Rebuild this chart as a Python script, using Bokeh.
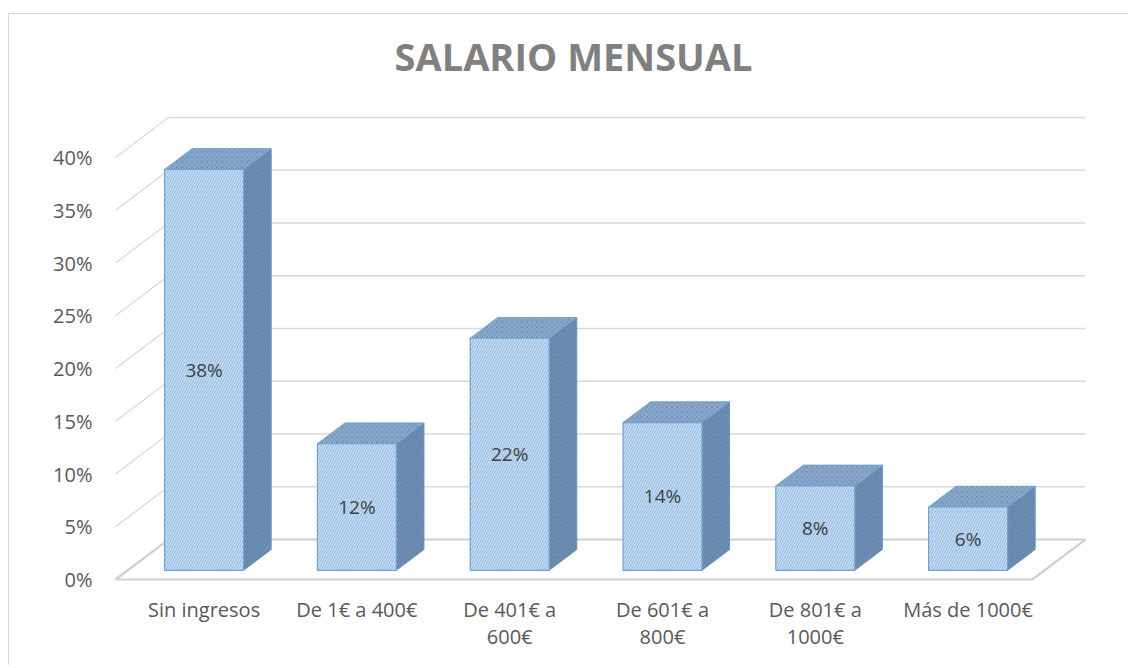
from bokeh.plotting import figure
from bokeh.models import Range1d, FixedTicker, PrintfTickFormatter, ColumnDataSource
from bokeh.core.properties import value
from bokeh.embed import file_html
from bokeh.resources import INLINE

# ---------------- data ----------------
categories = ["Sin ingresos", "De 1€ a 400€", "De 401€ a\n600€",
              "De 601€ a\n800€", "De 801€ a\n1000€", "Más de 1000€"]
percentages = [38, 12, 22, 14, 8, 6]
y_ticks = [0, 5, 10, 15, 20, 25, 30, 35, 40]
title_text = "SALARIO MENSUAL"

# ---------------- 3D projection helpers ----------------
DX = 0.347      # horizontal shift (category units) for full depth
DY = 3.79       # vertical shift (% units) for full depth
D0, D1 = 0.23, 0.75   # bar front / back depth
HW = 0.2585     # half width of a bar
XS = D0 * DX
FL = -0.5 - XS  # front-left of floor
FR = len(categories) - 0.5 - XS

def proj(x, y, d):
    return x + d * DX, y + d * DY

PX_X = 152.8    # px per category unit
PX_Y = 10.55    # px per percent

W, H = 1120, 652
MB_L, MB_R, MB_T, MB_B = 104, 40, 0, 84
frame_w = W - MB_L - MB_R
frame_h = H - MB_T - MB_B
x_start = FL - 2 / PX_X
y_start = -3 / PX_Y

# title placement (pixels relative to plot frame)
TITLE_DX = 458      # from front-left floor corner to title centre
TITLE_DY = 524      # from floor front edge up to title centre

FONT = "Open Sans"

p = figure(width=W, height=H, output_backend="svg", toolbar_location=None,
           x_range=Range1d(x_start, x_start + frame_w / PX_X),
           y_range=Range1d(y_start, y_start + frame_h / PX_Y),
           min_border_left=MB_L, min_border_right=MB_R,
           min_border_top=MB_T, min_border_bottom=MB_B)
p.styles = {"margin-left": "8px", "margin-top": "13px",
            "border-left": "1px solid #D9D9D9",
            "border-top": "1px solid #D9D9D9"}
p.outline_line_color = None
p.xgrid.visible = False
p.ygrid.visible = False
p.background_fill_color = "white"
p.border_fill_color = "white"

# y axis
ya = p.yaxis[0]
ya.ticker = FixedTicker(ticks=y_ticks)
ya.formatter = PrintfTickFormatter(format="%d%%")
ya.axis_line_color = None
ya.major_tick_line_color = None
ya.minor_tick_line_color = None
ya.major_label_standoff = 15
ya.major_label_text_font = FONT
ya.major_label_text_font_size = "20px"
ya.major_label_text_color = "#595959"

# x axis
xa = p.xaxis[0]
xa.ticker = FixedTicker(ticks=list(range(len(categories))))
xa.major_label_overrides = {i: c for i, c in enumerate(categories)}
xa.axis_line_color = None
xa.major_tick_line_color = None
xa.minor_tick_line_color = None
xa.major_label_standoff = 7
xa.major_label_text_font = FONT
xa.major_label_text_font_size = "20px"
xa.major_label_text_line_height = 1.03
xa.major_label_text_color = "#595959"

GRID = "#D9D9D9"

# left wall and back wall gridlines
lw_x, lw_y, bw_x, bw_y = [], [], [], []
for v in y_ticks[1:]:
    a = proj(FL, v, 0); b = proj(FL, v, 1); c = proj(FR, v, 1)
    lw_x.append([a[0], b[0]]); lw_y.append([a[1], b[1]])
    bw_x.append([b[0], c[0]]); bw_y.append([b[1], c[1]])
p.multi_line(lw_x, lw_y, line_color=GRID, line_width=1.2)
p.multi_line(bw_x, bw_y, line_color=GRID, line_width=1.6)

# floor
fl = [proj(FL, 0, 0), proj(FR, 0, 0), proj(FR, 0, 1), proj(FL, 0, 1)]
p.patch([q[0] for q in fl], [q[1] for q in fl], fill_color=None,
        line_color="#CFCFCF", line_width=2.2)

# bars
front_x, front_y, top_x, top_y, side_x, side_y = [], [], [], [], [], []
lab_x, lab_y, lab_t = [], [], []
for i, v in enumerate(percentages):
    xl = i - XS - HW
    xr = i - XS + HW
    f = [proj(xl, 0, D0), proj(xr, 0, D0), proj(xr, v, D0), proj(xl, v, D0)]
    t = [proj(xl, v, D0), proj(xr, v, D0), proj(xr, v, D1), proj(xl, v, D1)]
    s = [proj(xr, 0, D0), proj(xr, v, D0), proj(xr, v, D1), proj(xr, 0, D1)]
    front_x.append([q[0] for q in f]); front_y.append([q[1] for q in f])
    top_x.append([q[0] for q in t]); top_y.append([q[1] for q in t])
    side_x.append([q[0] for q in s]); side_y.append([q[1] for q in s])
    cx, cy = proj(i - XS, v / 2, D0)
    lab_x.append(cx); lab_y.append(cy); lab_t.append(f"{v}%")

p.patches(side_x, side_y, fill_color="#7393B7", line_color="#6A93BF",
          line_width=1, hatch_pattern="/", hatch_color="#54779D",
          hatch_scale=5, hatch_weight=1, hatch_alpha=0.8)
p.patches(top_x, top_y, fill_color="#89A9CB", line_color="#7BA3CF",
          line_width=1, hatch_pattern="x", hatch_color="#6B8DB2",
          hatch_scale=5, hatch_weight=1, hatch_alpha=0.7)
p.patches(front_x, front_y, fill_color="#C6DFF6", line_color="#72A1D3",
          line_width=1.2, hatch_pattern="/", hatch_color="#8AB0DA",
          hatch_scale=5, hatch_weight=1, hatch_alpha=0.9)

src = ColumnDataSource(dict(x=lab_x, y=lab_y, t=lab_t))
p.text(x="x", y="y", text="t", source=src, text_align="center",
       text_baseline="middle", text_font=value(FONT), text_font_size="19px",
       text_color="#404040")

# chart title
p.text(x=[FL + TITLE_DX / PX_X], y=[TITLE_DY / PX_Y], text=[title_text],
       text_align="center", text_baseline="middle", text_font=value(FONT),
       text_font_size="38px", text_font_style="bold", text_color="#808080")

open("out.html", "w").write(file_html(p, INLINE))
